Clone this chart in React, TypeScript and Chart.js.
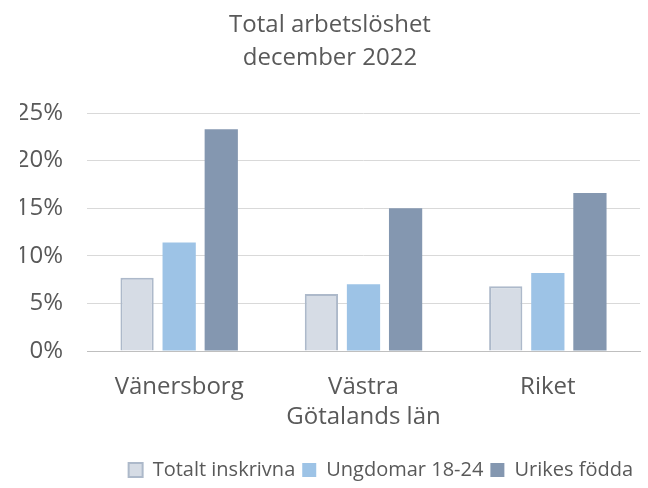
import React, { useEffect, useRef } from "react";
import { Chart, registerables } from "chart.js";

Chart.register(...registerables);

const categories: (string | string[])[] = ["Vänersborg", ["Västra", "Götalands län"], "Riket"];
const totaltInskrivna = [7.7, 6.0, 6.8];
const ungdomar = [11.4, 7.0, 8.2];
const urikesFodda = [23.3, 15.0, 16.6];
const seriesNames = ["Totalt inskrivna", "Ungdomar 18-24", "Urikes födda"];
const titleLines = ["Total arbetslöshet", "december 2022"];

const FONT = "'Open Sans', 'Noto Sans', sans-serif";
const TEXT = "#595959";

export default function App() {
  const ref = useRef<HTMLCanvasElement>(null);
  useEffect(() => {
    document.body.style.margin = "0";
    const ctx = ref.current!;
    const chart = new Chart(ctx, {
      type: "bar",
      data: {
        labels: categories,
        datasets: [
          {
            label: seriesNames[0],
            data: totaltInskrivna,
            backgroundColor: "#D6DCE5",
            borderColor: "#ADB9CA",
            borderWidth: 2,
          },
          {
            label: seriesNames[1],
            data: ungdomar,
            backgroundColor: "#9DC3E6",
            borderColor: "#9DC3E6",
            borderWidth: 0,
          },
          {
            label: seriesNames[2],
            data: urikesFodda,
            backgroundColor: "#8497B0",
            borderColor: "#8497B0",
            borderWidth: 0,
          },
        ],
      },
      options: {
        animation: false,
        responsive: false,
        maintainAspectRatio: false,
        layout: { padding: { left: 20, right: 8, top: 9, bottom: -2 } },
        datasets: {
          bar: { categoryPercentage: 0.685, barPercentage: 0.79 },
        },
        plugins: {
          title: {
            display: true,
            text: titleLines,
            color: TEXT,
            font: { family: FONT, size: 24, weight: "normal", lineHeight: 1.375 },
            padding: { top: 0, bottom: 38 },
          },
          legend: {
            position: "bottom",
            align: "end",
            labels: {
              color: TEXT,
              font: { family: FONT, size: 20 },
              boxWidth: 14,
              boxHeight: 14,
              padding: 7,
            },
          },
          tooltip: { enabled: false },
        },
        scales: {
          x: {
            grid: { display: false, drawTicks: false },
            border: { color: "#BFBFBF", width: 1 },
            ticks: {
              color: TEXT,
              font: { family: FONT, size: 24, lineHeight: 1.25 },
              padding: 21,
              maxRotation: 0,
              autoSkip: false,
            },
          },
          y: {
            min: 0,
            max: 25,
            afterFit: (scale: any) => {
              scale.width = 67;
            },
            grid: { color: "#D9D9D9", lineWidth: 1, drawTicks: false },
            border: { display: false },
            ticks: {
              stepSize: 5,
              color: TEXT,
              font: { family: FONT, size: 24 },
              padding: 24,
              callback: (v: any) => v + "%",
            },
          },
        },
      },
    });
    return () => chart.destroy();
  }, []);
  return (
    <div style={{ position: "absolute", left: 0, top: 0, width: 648, height: 488 }}>
      <canvas ref={ref} width={648} height={488} />
    </div>
  );
}
